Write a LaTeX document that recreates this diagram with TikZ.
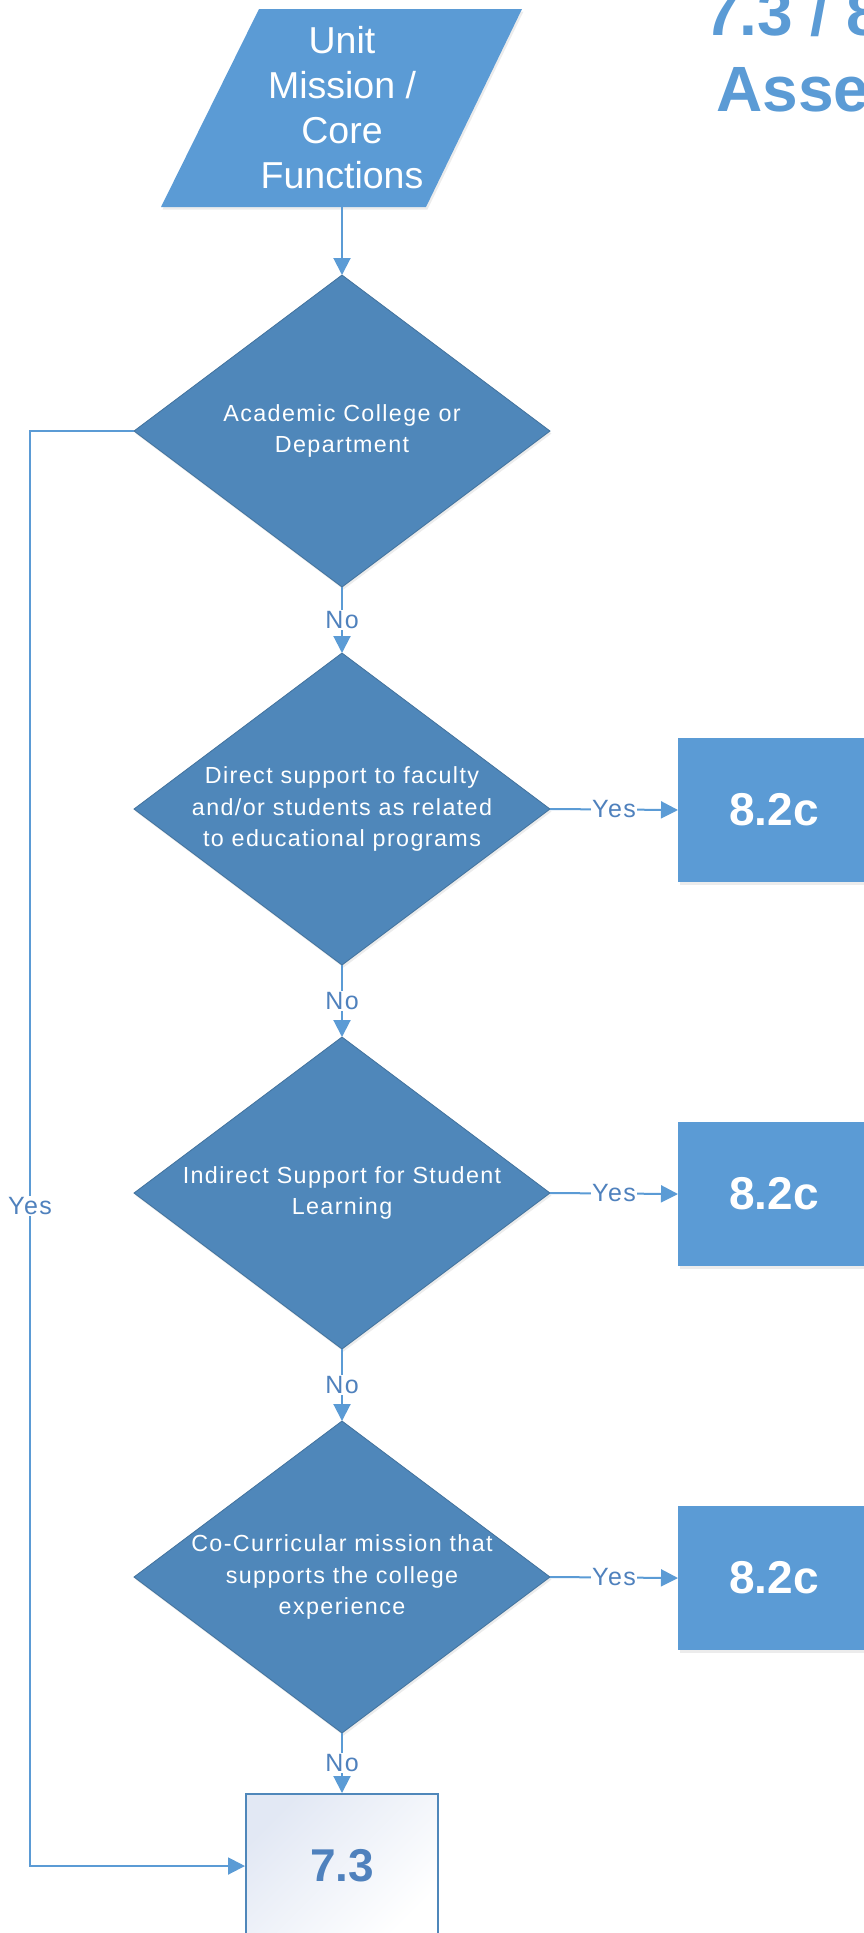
\documentclass[tikz,border=0pt]{standalone}
\usepackage{fontspec}
\setmainfont{Liberation Sans}
\newfontfamily\spacedfont[LetterSpace=6]{Liberation Sans}
\usetikzlibrary{shapes.geometric,arrows.meta,shadows}

\definecolor{boxblue}{HTML}{5B9BD5}
\definecolor{diablue}{HTML}{4F87BA}
\definecolor{edgeblue}{HTML}{41719C}
\definecolor{lblblue}{HTML}{4F81BD}
\definecolor{paleblue}{HTML}{E2E8F4}

\tikzset{
  flow/.style={draw=boxblue, line width=2pt, -{Triangle[length=17pt,width=17pt]}},
  decision/.style={diamond, fill=diablue, draw=edgeblue, line width=0.8pt,
    minimum width=416pt, minimum height=312pt, inner sep=0pt, outer sep=0pt,
    drop shadow={opacity=0.15, shadow xshift=1.5pt, shadow yshift=-2.5pt}},
  dectext/.style={text=white, align=center, inner sep=0pt,
    font=\spacedfont\fontsize{23.3}{31.5}\selectfont},
  outbox/.style={rectangle, fill=boxblue, minimum width=192pt, minimum height=144pt,
    outer sep=0pt, text=white, font=\bfseries\fontsize{46}{55}\selectfont,
    drop shadow={opacity=0.15, shadow xshift=1.5pt, shadow yshift=-2.5pt}},
  lbl/.style={fill=white, text=lblblue, inner sep=1.5pt,
    font=\spacedfont\fontsize{25}{30}\selectfont},
  title/.style={text=boxblue, inner sep=0pt, anchor=base west,
    font=\bfseries\fontsize{64}{76}\selectfont}
}

\begin{document}
\begin{tikzpicture}[x=1pt,y=-1pt]

    \useasboundingbox (0,0) rectangle (864,1933);
    \clip (0,0) rectangle (864,1933);

    % Title (cut off at the page edge)
    \node[title] (title1) at (704,35) {7.3 / 8};
    \node[title] (title2) at (716,111) {Asse};

    % Unit mission input
    \fill[boxblue, drop shadow={opacity=0.15, shadow xshift=1.5pt, shadow yshift=-2.5pt}]
      (259,9) -- (522,9) -- (426,207) -- (161,207) -- cycle;
    \node[text=white, align=center, inner sep=0pt, minimum height=198pt,
      font=\fontsize{37.5}{45}\selectfont] (mission) at (342,108)
      {Unit\\Mission /\\Core\\Functions};

    % Decisions
    \node[decision] (academic) at (342,431) {};
    \node[dectext] (academic-t) at (academic) {Academic College or\\Department};

    \node[decision] (direct) at (342,809) {};
    \node[dectext] (direct-t) at (direct) {Direct support to faculty\\and/or students as related\\to educational programs};

    \node[decision] (indirect) at (342,1193) {};
    \node[dectext] (indirect-t) at (indirect) {Indirect Support for Student\\Learning};

    \node[decision] (cocurr) at (342,1577) {};
    \node[dectext] (cocurr-t) at (cocurr) {Co-Curricular mission that\\supports the college\\experience};

    % Outcome boxes
    \node[outbox] (outA) at (774,810) {8.2c};
    \node[outbox] (outB) at (774,1194) {8.2c};
    \node[outbox] (outC) at (774,1578) {8.2c};

    \node[draw=diablue, line width=2pt, minimum width=192pt, minimum height=144pt,
      top color=paleblue, bottom color=white, shading angle=45, text=lblblue,
      font=\bfseries\fontsize{46}{55}\selectfont] (final) at (342,1866) {7.3};

    % Connectors
    \draw[flow] (mission.south) -- (academic.north);
    \draw[flow] (academic.south) -- node[lbl, midway] (no1) {No} (direct.north);
    \draw[flow] (direct.south) -- node[lbl, midway] (no2) {No} (indirect.north);
    \draw[flow] (indirect.south) -- node[lbl, midway] (no3) {No} (cocurr.north);
    \draw[flow] (cocurr.south) -- node[lbl, midway] (no4) {No} (final.north);

    \foreach \d/\b in {direct/outA, indirect/outB, cocurr/outC}
      \draw[flow] (\d.east) -- node[lbl, midway] (yes-\b) {Yes} (\b.west);

    % Yes loop down the left side
    \coordinate (bend) at (30,431);
    \draw[flow] (academic.west) -- (bend) |- node[lbl, pos=0.27] (yes0) {Yes} (final.west);

\end{tikzpicture}
\end{document}
